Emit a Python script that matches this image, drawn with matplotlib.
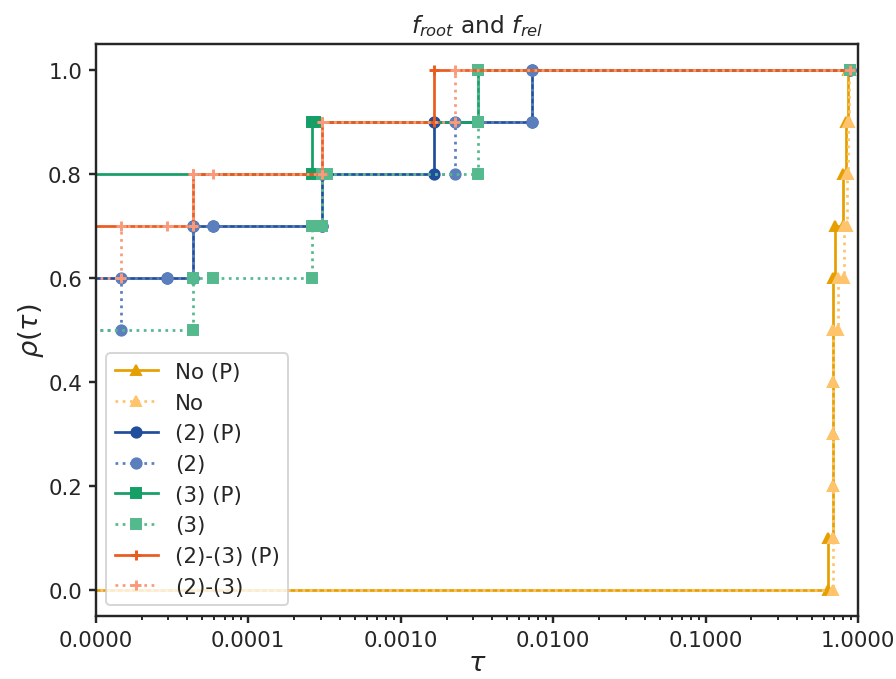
import matplotlib
matplotlib.use("Agg")
import matplotlib.pyplot as plt
from matplotlib.ticker import FixedLocator, FormatStrFormatter, NullFormatter

# step vertices (tau, rho); 1e-6 = left of the axis
no_p_tau = [1e-6, 0.638, 0.638, 0.688, 0.688, 0.688, 0.688, 0.688, 0.688,
            0.709, 0.709, 0.80, 0.80, 0.837, 0.837, 0.863, 0.863, 0.889]
no_p_rho = [0.0, 0.0, 0.1, 0.1, 0.2, 0.3, 0.4, 0.5, 0.6,
            0.6, 0.7, 0.7, 0.8, 0.8, 0.9, 0.9, 1.0, 1.0]

no_tau = [1e-6, 0.688, 0.688, 0.688, 0.688, 0.688, 0.688, 0.735, 0.735,
          0.815, 0.815, 0.845, 0.845, 0.855, 0.855, 0.875, 0.875, 0.889]
no_rho = [0.0, 0.0, 0.1, 0.2, 0.3, 0.4, 0.5, 0.5, 0.6,
          0.6, 0.7, 0.7, 0.8, 0.8, 0.9, 0.9, 1.0, 1.0]

two_p_tau = [1e-6, 2.92e-5, 4.33e-5, 4.33e-5, 5.84e-5, 3.07e-4, 3.07e-4,
             1.66e-3, 1.66e-3, 7.29e-3, 7.29e-3, 0.889]
two_p_rho = [0.6, 0.6, 0.6, 0.7, 0.7, 0.7, 0.8, 0.8, 0.9, 0.9, 1.0, 1.0]

two_tau = [1e-6, 1.46e-5, 1.46e-5, 2.92e-5, 4.33e-5, 4.33e-5, 5.84e-5,
           3.07e-4, 3.07e-4, 2.28e-3, 2.28e-3, 7.29e-3, 7.29e-3, 0.889]
two_rho = [0.5, 0.5, 0.6, 0.6, 0.6, 0.7, 0.7, 0.7, 0.8, 0.8, 0.9, 0.9, 1.0, 1.0]

three_p_tau = [1e-6, 2.61e-4, 2.61e-4, 2.75e-4, 3.23e-3, 3.23e-3, 0.889]
three_p_rho = [0.8, 0.8, 0.9, 0.9, 0.9, 1.0, 1.0]

three_tau = [1e-6, 4.33e-5, 4.33e-5, 5.84e-5, 2.61e-4, 2.61e-4, 2.89e-4,
             3.07e-4, 3.07e-4, 3.28e-4, 3.23e-3, 3.23e-3, 3.23e-3, 0.889]
three_rho = [0.5, 0.5, 0.6, 0.6, 0.6, 0.7, 0.7, 0.7, 0.8, 0.8, 0.8, 0.9, 1.0, 1.0]

both_p_tau = [1e-6, 4.33e-5, 4.33e-5, 3.07e-4, 3.07e-4, 1.66e-3, 1.66e-3, 0.889]
both_p_rho = [0.7, 0.7, 0.8, 0.8, 0.9, 0.9, 1.0, 1.0]

both_tau = [1e-6, 1.46e-5, 1.46e-5, 2.92e-5, 4.33e-5, 4.33e-5, 5.84e-5,
            3.07e-4, 3.07e-4, 2.28e-3, 2.28e-3, 0.889]
both_rho = [0.6, 0.6, 0.7, 0.7, 0.7, 0.8, 0.8, 0.8, 0.9, 0.9, 1.0, 1.0]

x_ticks = [1e-5, 1e-4, 1e-3, 1e-2, 1e-1, 1.0]
y_ticks = [0.0, 0.2, 0.4, 0.6, 0.8, 1.0]

series = [
    ("No (P)", no_p_tau, no_p_rho, "#E69F00", "-", "^"),
    ("No", no_tau, no_rho, "#FFC46B", ":", "^"),
    ("(2) (P)", two_p_tau, two_p_rho, "#1F4E9C", "-", "o"),
    ("(2)", two_tau, two_rho, "#5B7EBD", ":", "o"),
    ("(3) (P)", three_p_tau, three_p_rho, "#159E66", "-", "s"),
    ("(3)", three_tau, three_rho, "#55B98E", ":", "s"),
    ("(2)-(3) (P)", both_p_tau, both_p_rho, "#EA5B1F", "-", "+"),
    ("(2)-(3)", both_tau, both_rho, "#FA9A7A", ":", "+"),
]

dark = ".15"
plt.rcParams.update({
    "axes.edgecolor": dark, "axes.linewidth": 1.25,
    "xtick.color": dark, "ytick.color": dark, "text.color": dark,
    "axes.labelcolor": dark,
    "xtick.major.width": 1.25, "ytick.major.width": 1.25,
    "xtick.minor.width": 1.0, "xtick.major.size": 3.5, "ytick.major.size": 3.5,
    "xtick.minor.size": 2,
})

fig = plt.figure(figsize=(6.4, 4.857), dpi=140)
ax = fig.add_axes([0.1068, 0.0926, 0.8508, 0.8412])

for label, tau, rho, color, ls, mk in series:
    ax.plot(tau, rho, color=color, linestyle=ls, marker=mk, lw=1.4,
            markersize=5.3, markeredgewidth=1.5 if mk == "+" else 1.0,
            label=label)

ax.set_xscale("log")
ax.set_xlim(1e-5, 1.0)
ax.set_ylim(-0.05, 1.05)
ax.xaxis.set_major_locator(FixedLocator(x_ticks))
ax.xaxis.set_major_formatter(FormatStrFormatter("%.4f"))
ax.xaxis.set_minor_formatter(NullFormatter())
ax.yaxis.set_major_locator(FixedLocator(y_ticks))
ax.yaxis.set_major_formatter(FormatStrFormatter("%.1f"))
ax.tick_params(labelsize=11)

ax.set_xlabel(r"$\tau$", fontsize=14, labelpad=0)
ax.set_ylabel(r"$\rho(\tau)$", fontsize=14, labelpad=1)
ax.set_title(r"$f_{root}$ and $f_{rel}$", fontsize=12)
ax.legend(loc="lower left", fontsize=11)

fig.savefig("out.png", dpi=140)
